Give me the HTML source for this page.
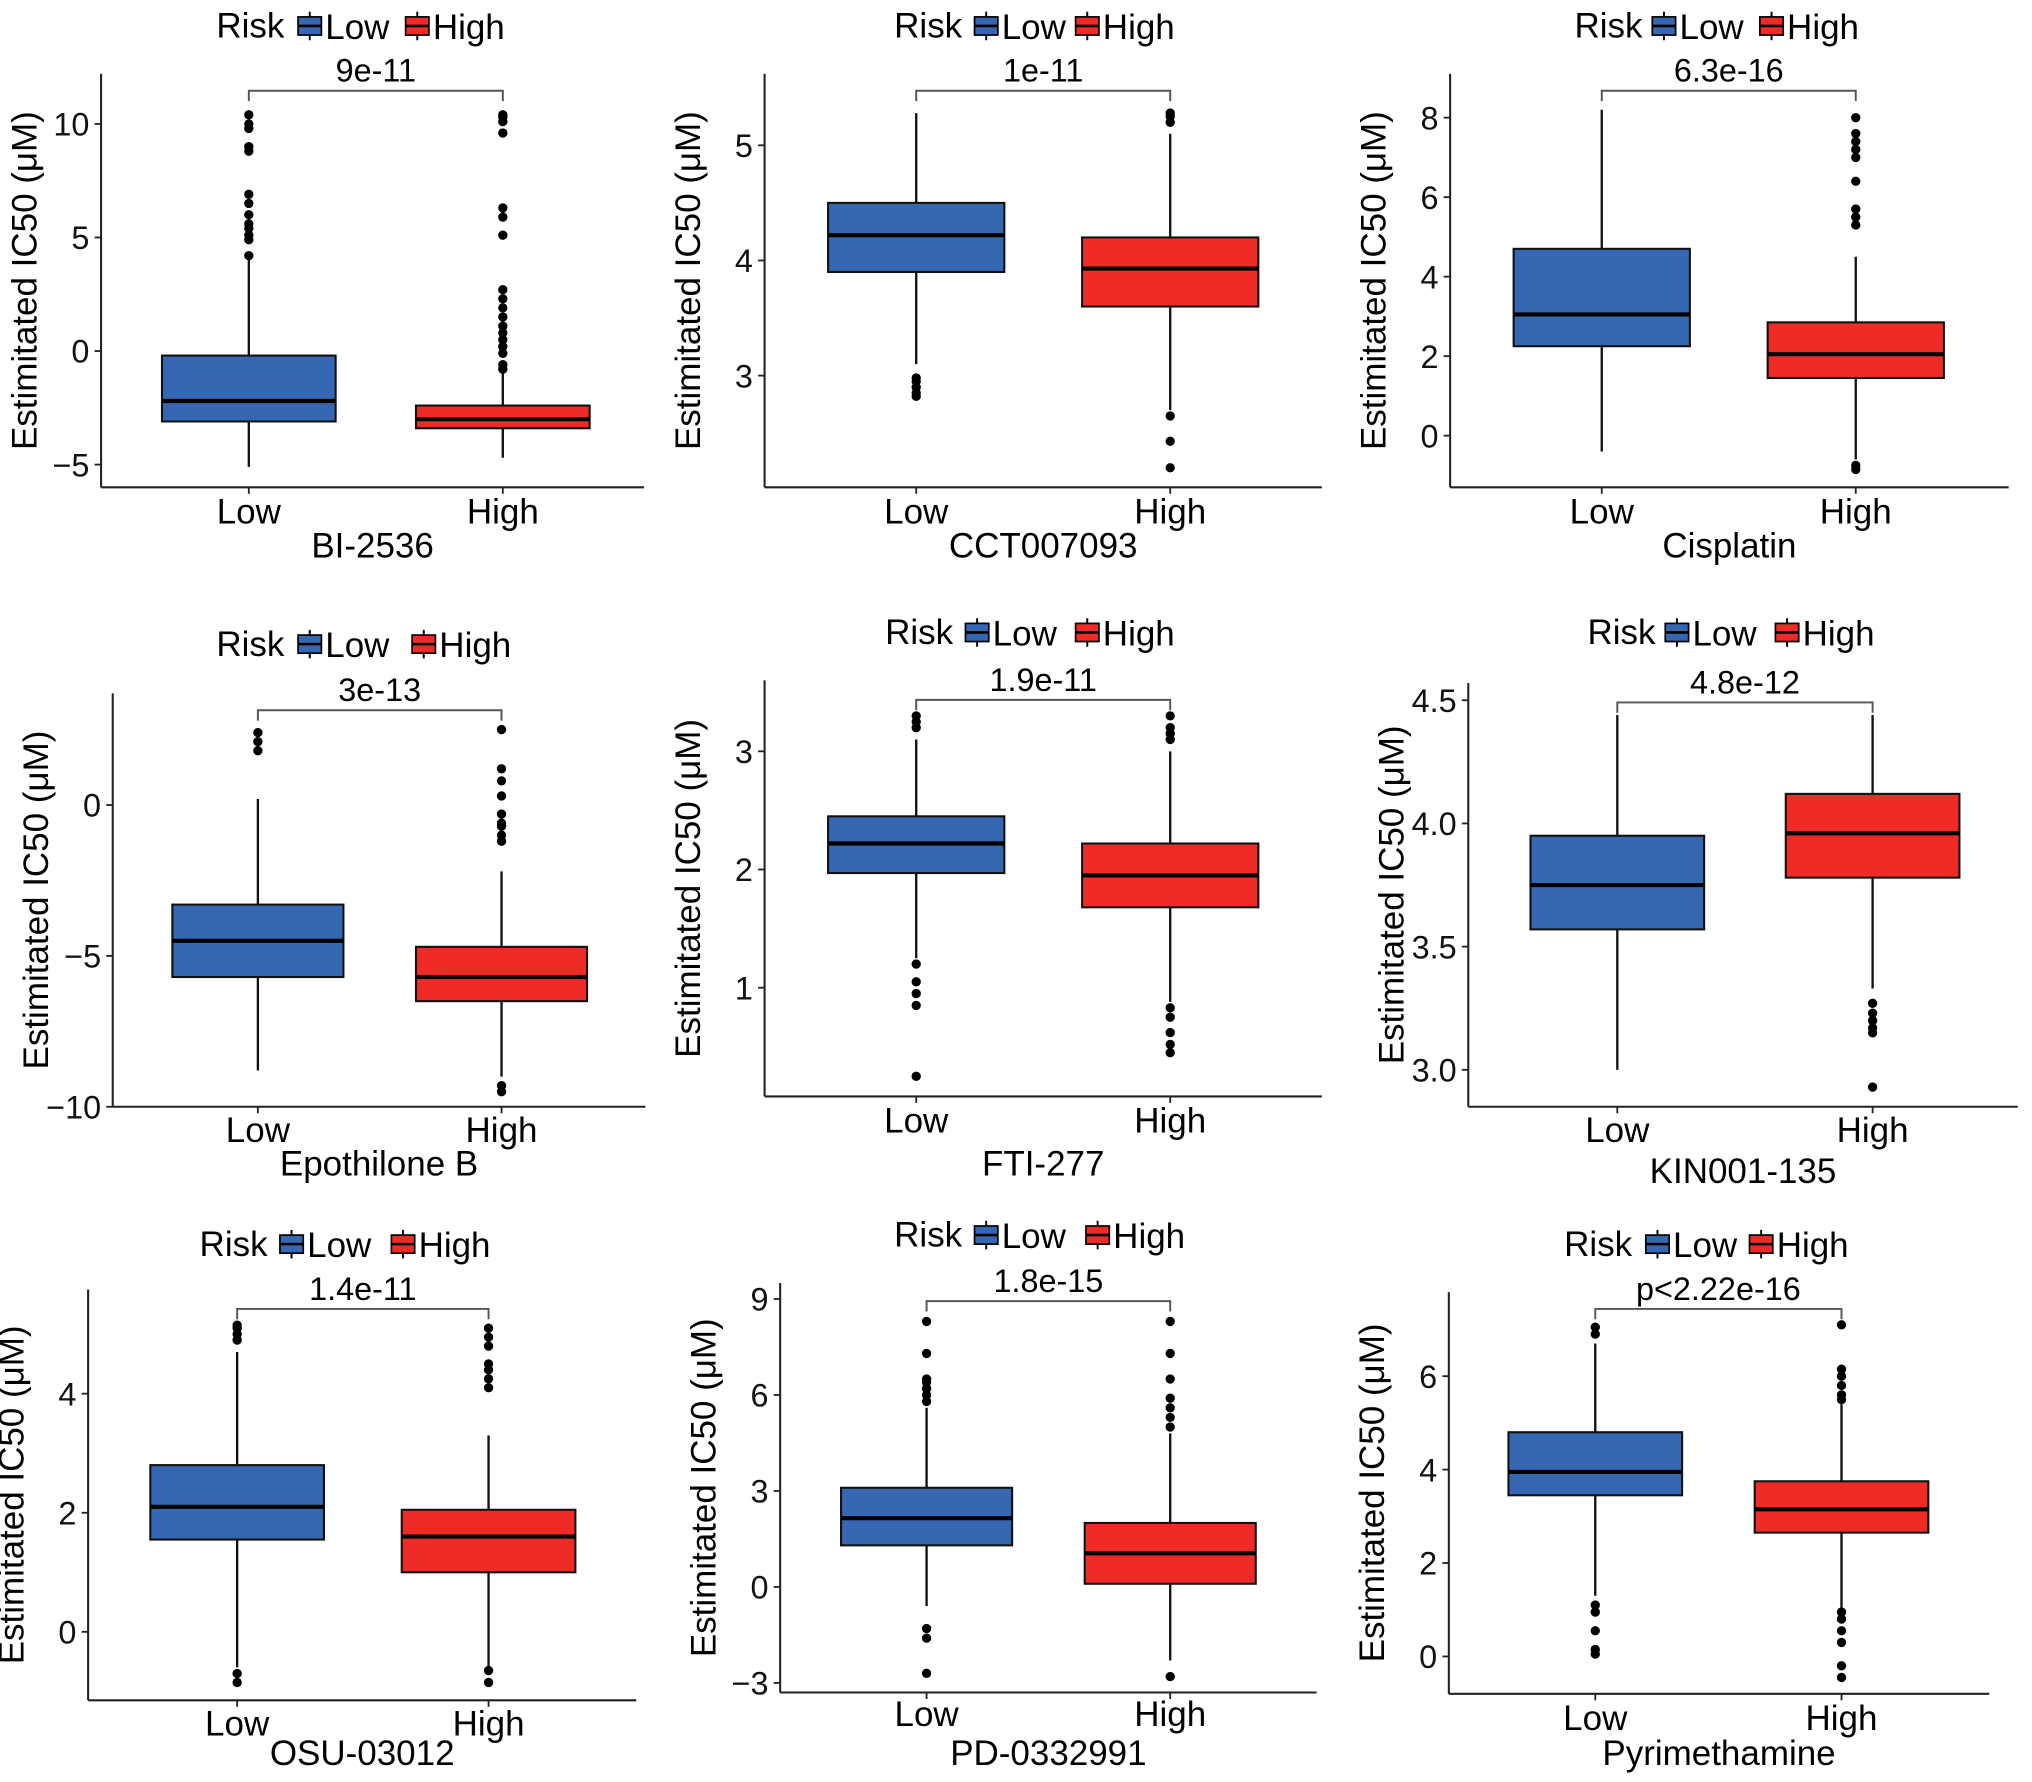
<!DOCTYPE html>
<html><head><meta charset="utf-8">
<style>
html,body{margin:0;padding:0;background:#fff;}
svg{display:block;font-family:"Liberation Sans",Arial,sans-serif;}
</style></head>
<body>
<svg id="fig" width="2032" height="1782" viewBox="0 0 1568 1375" xmlns="http://www.w3.org/2000/svg"></svg>
<script>
// ---- data: [whiskerLow, Q1, median, Q3, whiskerHigh] ----
const groups = ["Low", "High"];
const drugNames = ["BI-2536","CCT007093","Cisplatin","Epothilone B","FTI-277","KIN001-135","OSU-03012","PD-0332991","Pyrimethamine"];
const pValues = ["9e-11","1e-11","6.3e-16","3e-13","1.9e-11","4.8e-12","1.4e-11","1.8e-15","p<2.22e-16"];
const yTicks = [[-5,0,5,10],[3,4,5],[0,2,4,6,8],[-10,-5,0],[1,2,3],[3.0,3.5,4.0,4.5],[0,2,4],[-3,0,3,6,9],[0,2,4,6]];
const yTickLabels = [["\u22125","0","5","10"],["3","4","5"],["0","2","4","6","8"],["\u221210","\u22125","0"],["1","2","3"],["3.0","3.5","4.0","4.5"],["0","2","4"],["\u22123","0","3","6","9"],["0","2","4","6"]];
const yDomains = [[-6,12.2],[2.03,5.62],[-1.3,9.1],[-10,3.7],[0.08,3.6],[2.85,4.57],[-1.15,5.75],[-3.3,9.5],[-0.8,7.8]];

const lowStats = [[-5.1,-3.1,-2.2,-0.2,4.1],[3.1,3.9,4.22,4.5,5.28],[-0.4,2.25,3.05,4.7,8.2],[-8.8,-5.7,-4.5,-3.3,0.2],[1.25,1.97,2.22,2.45,3.1],[3.0,3.57,3.75,3.95,4.44],[-0.6,1.55,2.1,2.8,4.7],[-0.6,1.3,2.15,3.1,5.6],[1.3,3.45,3.95,4.8,6.7]];
const highStats = [[-4.7,-3.4,-3.0,-2.4,-0.8],[2.7,3.6,3.93,4.2,5.1],[-0.6,1.45,2.05,2.85,4.5],[-9.0,-6.5,-5.7,-4.7,-2.2],[0.88,1.68,1.95,2.22,3.0],[3.33,3.78,3.96,4.12,4.44],[-0.6,1.0,1.6,2.05,3.3],[-2.3,0.1,1.05,2.0,4.8],[1.0,2.65,3.15,3.75,5.4]];
const lowOutliers = [[4.2,4.9,5.1,5.4,5.6,6.0,6.5,6.9,8.8,9.0,9.8,10.0,10.4],[2.82,2.85,2.9,2.95,2.98],[],[1.8,2.1,2.4],[0.25,0.85,0.95,1.05,1.2,3.2,3.25,3.3],[],[-0.85,-0.7,4.9,5.0,5.1,5.15],[-2.7,-1.6,-1.3,5.8,6.0,6.2,6.4,6.5,7.3,8.3],[0.05,0.15,0.55,0.95,1.1,6.9,7.05]];
const highOutliers = [[-0.8,-0.6,-0.1,0.2,0.5,0.8,1.1,1.5,1.9,2.3,2.7,5.1,5.9,6.3,9.6,10.1,10.3,10.4],[2.2,2.43,2.65,5.2,5.25,5.28],[-0.85,-0.75,5.3,5.5,5.7,6.4,7.0,7.2,7.4,7.6,8.0],[-9.5,-9.3,-1.2,-1.0,-0.7,-0.6,-0.3,0.3,0.8,1.2,2.5],[0.45,0.52,0.62,0.75,0.83,3.1,3.15,3.2,3.3],[2.93,3.15,3.17,3.2,3.23,3.27],[-0.85,-0.65,4.1,4.25,4.4,4.5,4.8,4.95,5.1],[-2.8,5.0,5.3,5.6,5.9,6.5,7.3,8.3],[-0.45,-0.2,0.3,0.55,0.8,0.95,5.5,5.6,5.8,6.0,6.15,7.1]];

// ---- layout (pixel frames, not data) ----
const frames = [
 {l:78,r:497,t:57,b:376,xL:192,xH:388,hw:67,leg:20,risk:167,k1:230,k2:313,br:70,xt:394,xl:420},
 {l:590,r:1020,t:57,b:376,xL:707,xH:903,hw:68,leg:20,risk:690,k1:752,k2:830,br:70,xt:394,xl:420},
 {l:1119,r:1550,t:57,b:376,xL:1236,xH:1432,hw:68,leg:20,risk:1215,k1:1275,k2:1358,br:70,xt:394,xl:420},
 {l:87,r:498,t:535,b:854,xL:199,xH:387,hw:66,leg:497,risk:167,k1:230,k2:318,br:548,xt:871,xl:897},
 {l:590,r:1020,t:525,b:846,xL:707,xH:903,hw:68,leg:488,risk:683,k1:745,k2:830,br:540,xt:864,xl:897},
 {l:1133,r:1557,t:527,b:854,xL:1248,xH:1445,hw:67,leg:488,risk:1225,k1:1285,k2:1370,br:542,xt:871,xl:903},
 {l:68,r:491,t:995,b:1312,xL:183,xH:377,hw:67,leg:960,risk:154,k1:216,k2:302,br:1010,xt:1329,xl:1352},
 {l:602,r:1016,t:990,b:1306,xL:715,xH:903,hw:66,leg:953,risk:690,k1:752,k2:838,br:1004,xt:1322,xl:1352},
 {l:1118,r:1535,t:997,b:1307,xL:1231,xH:1421,hw:67,leg:960,risk:1207,k1:1270,k2:1350,br:1010,xt:1325,xl:1352}
];
const colors = {Low:"#3567b2", High:"#ee2b27"};
const NS = "http://www.w3.org/2000/svg";
const svg = document.getElementById("fig");
function mk(tag, attrs, parent, text){
  const e = document.createElementNS(NS, tag);
  for (const k in attrs) e.setAttribute(k, attrs[k]);
  if (text !== undefined) e.textContent = text;
  parent.appendChild(e);
  return e;
}
drugNames.forEach((drug, i) => {
  const f = frames[i];
  const [d0, d1] = yDomains[i];
  const y = v => f.b - (v - d0) / (d1 - d0) * (f.b - f.t);
  const g = mk("g", {}, svg);
  
  
  // legend
  const lg = mk("g", {}, g);
  
  
  mk("text", {x:f.risk, y:f.leg+9, "font-size":27, fill:"#000"}, lg, "Risk");
  [["Low",f.k1],["High",f.k2]].forEach(([grp,kx]) => {
    const ke = mk("g", {}, lg);
    
    
    mk("line", {x1:kx+9,x2:kx+9,y1:f.leg-11,y2:f.leg+11,stroke:"#000","stroke-width":1.5}, ke);
    mk("rect", {x:kx,y:f.leg-7,width:18,height:14,fill:colors[grp],stroke:"#000","stroke-width":1.3}, ke);
    mk("line", {x1:kx,x2:kx+18,y1:f.leg,y2:f.leg,stroke:"#000","stroke-width":2}, ke);
    mk("text", {x:kx+21, y:f.leg+10, "font-size":27, fill:"#000"}, ke, grp);
  });
  // axes
  const ax = mk("g", {}, g);
  
  
  mk("line", {x1:f.l,x2:f.l,y1:f.t,y2:f.b,stroke:"#222","stroke-width":1.6}, ax);
  mk("line", {x1:f.l,x2:f.r,y1:f.b,y2:f.b,stroke:"#222","stroke-width":1.6}, ax);
  yTicks[i].forEach((t, j) => {
    mk("line", {x1:f.l-5,x2:f.l,y1:y(t),y2:y(t),stroke:"#222","stroke-width":1.4}, ax);
    const tl = mk("text", {x:f.l-9, y:y(t)+9, "font-size":25, "text-anchor":"end", fill:"#111"}, ax, yTickLabels[i][j]);
    
    
  });
  const yt = mk("text", {transform:`translate(${f.l-50},${(f.t+f.b)/2}) rotate(-90)`, "font-size":27, "text-anchor":"middle", fill:"#000"}, ax, "Estimitated IC50 (\u03bcM)");
  
  
  const xs = {Low:f.xL, High:f.xH};
  groups.forEach(grp => {
    mk("line", {x1:xs[grp],x2:xs[grp],y1:f.b,y2:f.b+5,stroke:"#222","stroke-width":1.4}, ax);
    const xl = mk("text", {x:xs[grp], y:f.xt+10, "font-size":27, "text-anchor":"middle", fill:"#000"}, ax, grp);
    
    
  });
  const xt = mk("text", {x:(f.l+f.r)/2, y:f.xl+10, "font-size":27, "text-anchor":"middle", fill:"#000"}, ax, drug);
  
  
  // boxes
  groups.forEach(grp => {
    const s = grp === "Low" ? lowStats[i] : highStats[i];
    const outs = grp === "Low" ? lowOutliers[i] : highOutliers[i];
    const cx = xs[grp];
    const bg = mk("g", {}, g);
    
    
    mk("line", {x1:cx,x2:cx,y1:y(s[0]),y2:y(s[4]),stroke:"#111","stroke-width":1.8}, bg);
    mk("rect", {x:cx-f.hw,y:y(s[3]),width:2*f.hw,height:y(s[1])-y(s[3]),fill:colors[grp],stroke:"#111","stroke-width":1.6}, bg);
    mk("line", {x1:cx-f.hw,x2:cx+f.hw,y1:y(s[2]),y2:y(s[2]),stroke:"#000","stroke-width":3.2}, bg);
    outs.forEach(v => {
      const c = mk("circle", {cx:cx, cy:y(v), r:3.6, fill:"#000"}, bg);
      
      
    });
  });
  // p-value bracket
  const pb = mk("g", {}, g);
  
  
  mk("path", {d:`M${f.xL},${f.br+8} V${f.br} H${f.xH} V${f.br+8}`, fill:"none", stroke:"#555","stroke-width":1.5}, pb);
  mk("text", {x:(f.xL+f.xH)/2, y:f.br-7, "font-size":25, "text-anchor":"middle", fill:"#000"}, pb, pValues[i]);
});
</script>
</body></html>
